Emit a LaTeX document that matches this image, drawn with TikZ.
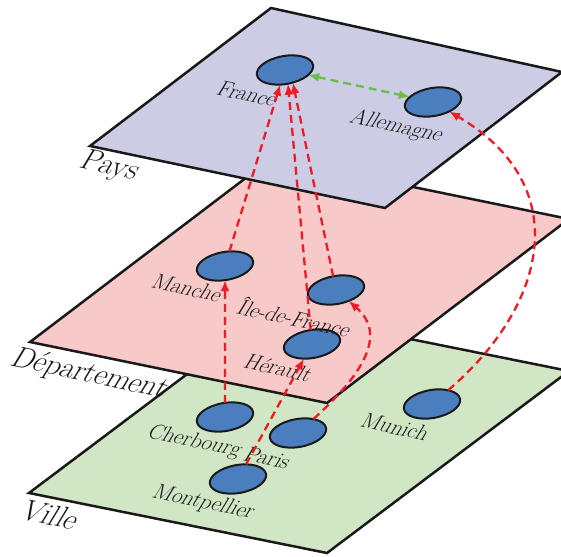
\documentclass[tikz,border=0pt]{standalone}
\usepackage{tikz}
\usetikzlibrary{positioning}
\usetikzlibrary{shapes.geometric}
\usetikzlibrary{arrows.meta}
\definecolor{paysfill}{RGB}{204,204,229}
\definecolor{depfill}{RGB}{248,201,201}
\definecolor{villefill}{RGB}{208,230,196}
\definecolor{placeblue}{RGB}{74,126,191}
\definecolor{linkred}{RGB}{237,28,36}
\definecolor{peergreen}{RGB}{106,190,69}
\tikzset{
    layer/.style = {draw=black!90, line width=2.5pt, line join=miter},
    place/.style = {ellipse, draw=black!90, line width=2pt, fill=placeblue,
        minimum width=57pt, minimum height=28pt, inner sep=0pt, outer sep=0pt, rotate=10},
    placename/.style = {text=black!90, font=\fontsize{22}{22}\selectfont,
        rotate=-12, xslant=0.35, inner sep=0pt},
    layername/.style = {text=black!90, font=\fontsize{30}{30}\selectfont,
        rotate=-12, xslant=0.35, inner sep=0pt},
    link/.style = {draw=linkred, line width=2.3pt, dash pattern=on 8pt off 5pt,
        -{Latex[length=11pt,width=9pt]}},
    peer/.style = {draw=peergreen, line width=2.3pt, dash pattern=on 8pt off 5pt,
        {Latex[length=11pt,width=9pt]}-{Latex[length=11pt,width=9pt]}}}

\begin{document}
\begin{tikzpicture}[x=1pt, y=-1pt, node distance=24pt and 36pt, on grid]
    \useasboundingbox (0,0) rectangle (561,556);
    \clip (0,0) rectangle (561,556);

    % the three planes, back to front
    \filldraw[layer, fill=villefill] (29,493) -- (271,311) -- (569,371) -- (327,553) -- cycle;
    \filldraw[layer, fill=depfill] (30,342) -- (272,158) -- (569,219) -- (327,403) -- cycle;
    \filldraw[layer, fill=paysfill] (90,146) -- (271,8) -- (562,72) -- (385,208) -- cycle;

    \node[layername] (pays) at (110,167) {Pays};
    \node[layername] (departement) at (90,375) {Département};
    \node[layername] (ville) at (51,515) {Ville};

    \node[place] (france) at (285,70) {};
    \node[place] (allemagne) at (433,102) {};
    \node[place] (manche) at (225,266) {};
    \node[place] (idf) at (336,290) {};
    \node[place] (herault) at (312,344) {};
    \node[place] (cherbourg) at (225,417) {};
    \node[place] (paris) at (298,433) {};
    \node[place] (montpellier) at (238,479) {};
    \node[place] (munich) at (432,404) {};

    \node[placename] (france name) [below left = 24pt and 37pt of france] {France};
    \node[placename] (allemagne name) [below left = 25pt and 36pt of allemagne] {Allemagne};
    \node[placename] (manche name) [below left = 22pt and 37pt of manche] {Manche};
    \node[placename] (idf name) [below left = 27pt and 40pt of idf] {Île-de-France};
    \node[placename] (herault name) [below left = 24pt and 33pt of herault] {Hérault};
    \node[placename] (cherbourg name) [below left = 25pt and 30pt of cherbourg] {Cherbourg};
    \node[placename] (paris name) [below left = 25pt and 30pt of paris] {Paris};
    \node[placename] (montpellier name) [below left = 24pt and 34pt of montpellier] {Montpellier};
    \node[placename] (munich name) [below left = 23pt and 36pt of munich] {Munich};

    \draw[link] (cherbourg) -- (manche);
    \draw[link] (montpellier) -- (herault);
    \draw[link] (paris) .. controls (362,375) and (388,335) .. (idf);
    \draw[link] (manche) -- (france.242);
    \draw[link] (herault) -- (france.272);
    \draw[link] (idf) -- (france.292);
    \draw[link] (munich) .. controls (548,305) and (575,185) .. (allemagne);
    \draw[peer] (france) -- (allemagne);
\end{tikzpicture}
\end{document}
